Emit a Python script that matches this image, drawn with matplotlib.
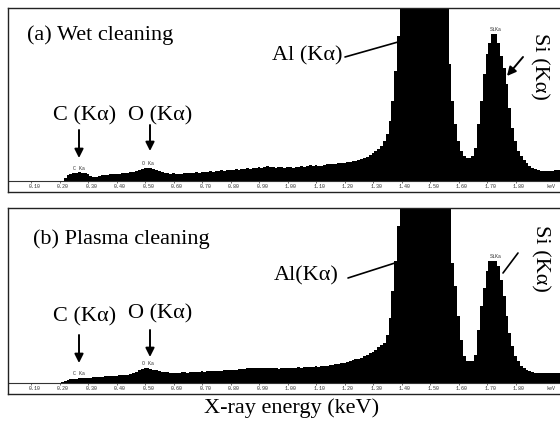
import numpy as np
import matplotlib.pyplot as plt

plt.rcParams['font.family'] = ['Liberation Serif', 'DejaVu Serif']

W, H = 560, 430

# canales de energia (keV), 0.02 .. 1.95 cada 0.01
energia = np.round(0.02 + 0.01 * np.arange(194), 2)

# cuentas (a) limpieza humeda
cuentas_humeda = [
    0, 0, 0, 0, 0, 0, 0, 0, 0, 0,
    0, 0, 0, 0, 0, 0, 0, 0, 0, 0,
    3, 6, 7, 8, 8, 9, 8, 8, 7, 5,
    4, 4, 5, 6, 6, 6, 7, 7, 7, 7,
    8, 8, 8, 9, 9, 10, 11, 12, 13, 13,
    13, 12, 11, 10, 9, 8, 8, 7, 8, 7,
    7, 7, 8, 8, 8, 8, 9, 8, 9, 9,
    9, 10, 9, 10, 10, 11, 10, 11, 11, 11,
    12, 11, 12, 12, 13, 12, 13, 13, 14, 13,
    14, 15, 14, 14, 13, 14, 14, 13, 14, 14,
    13, 14, 14, 15, 14, 15, 16, 15, 16, 15,
    15, 16, 17, 17, 17, 17, 18, 18, 18, 19,
    19, 20, 20, 21, 22, 23, 24, 26, 28, 30,
    32, 35, 40, 47, 60, 80, 110, 145, 190, 240,
    290, 330, 360, 380, 390, 390, 380, 360, 330, 290,
    250, 220, 195, 180, 175, 117, 80, 57, 40, 30,
    25, 23, 23, 25, 33, 57, 80, 107, 127, 138,
    147, 147, 138, 125, 113, 97, 73, 53, 40, 30,
    25, 21, 18, 15, 13, 12, 11, 10, 10, 10,
    10, 10, 11, 11,
]

# cuentas (b) limpieza con plasma
cuentas_plasma = [
    0, 0, 0, 0, 0, 0, 0, 0, 0, 0,
    0, 0, 0, 0, 0, 0, 0, 0, 0, 1,
    2, 3, 4, 4, 4, 5, 5, 5, 5, 5,
    6, 6, 6, 6, 7, 7, 7, 7, 7, 8,
    8, 8, 8, 9, 10, 11, 13, 14, 15, 15,
    14, 13, 13, 12, 11, 11, 11, 10, 10, 10,
    10, 11, 11, 10, 11, 11, 11, 11, 12, 11,
    12, 12, 12, 12, 12, 12, 13, 13, 13, 13,
    13, 14, 14, 14, 15, 15, 15, 15, 15, 15,
    15, 15, 15, 15, 15, 14, 15, 15, 15, 15,
    15, 15, 16, 15, 16, 16, 16, 16, 17, 16,
    17, 17, 17, 18, 18, 19, 19, 20, 20, 21,
    22, 23, 24, 24, 25, 27, 28, 30, 31, 33,
    36, 38, 40, 48, 65, 92, 122, 157, 200, 250,
    300, 340, 370, 390, 400, 400, 390, 370, 340, 300,
    270, 240, 215, 195, 185, 180, 120, 97, 67, 43,
    27, 22, 22, 22, 28, 53, 77, 95, 112, 122,
    122, 122, 117, 103, 87, 67, 50, 37, 27, 22,
    17, 15, 13, 12, 11, 10, 10, 10, 10, 10,
    10, 10, 10, 10,
]

ticks_kev = [0.1, 0.2, 0.3, 0.4, 0.5, 0.6, 0.7, 0.8, 0.9,
             1.0, 1.1, 1.2, 1.3, 1.4, 1.5, 1.6, 1.7, 1.8]
ticks_txt = ['%.2f' % t for t in ticks_kev]


def fp(x, y):
    # pixeles de la imagen -> fraccion de figura
    return (x / W, 1 - y / H)


def e_de_x(x):
    return 0.1 + (x - 31) / 285.0


def panel(ax, cuentas, ytop, ystrip, picos):
    ax.bar(energia, cuentas, width=0.0102, color='k', linewidth=0)
    ax.set_xlim(e_de_x(8), e_de_x(566))
    ax.set_ylim(-ystrip, ytop)
    ax.axhline(0, color='#333333', lw=0.8)
    ax.vlines(ticks_kev, -2, 0, color='#333333', lw=0.5)
    for t, s in zip(ticks_kev, ticks_txt):
        ax.text(t + 0.012, -ystrip / 2, s, fontsize=3.6, ha='center',
                va='center', family='Liberation Mono', color='#333333')
    ax.text(1.925, -ystrip / 2, 'keV', fontsize=3.6, ha='center',
            va='center', family='Liberation Mono', color='#333333')
    for s, e, y in picos:
        ax.text(e, y, s, fontsize=3.6, ha='center', va='bottom',
                family='Liberation Mono', color='#333333')
    ax.set_xticks([])
    ax.set_yticks([])
    for lado in ['left', 'top', 'bottom']:
        ax.spines[lado].set_color('#222222')
        ax.spines[lado].set_linewidth(1.0)
    ax.spines['right'].set_visible(False)


fig = plt.figure(figsize=(W / 100, H / 100), dpi=100)
ax1 = fig.add_axes([8 / W, 1 - 191.7 / H, 558 / W, 183.4 / H])
ax2 = fig.add_axes([8 / W, 1 - 394.3 / H, 558 / W, 186 / H])

panel(ax1, cuentas_humeda, 172.7, 10.7,
      [('C Ka', 0.27, 10), ('O Ka', 0.51, 15), ('SiKa', 1.73, 149)])
panel(ax2, cuentas_plasma, 175, 11,
      [('C Ka', 0.27, 7), ('O Ka', 0.51, 17), ('SiKa', 1.73, 124)])

fs = 16
flecha = dict(arrowstyle='-|>', lw=1.4, color='k', mutation_scale=13,
              shrinkA=0, shrinkB=0)
linea = dict(arrowstyle='-', lw=1.2, color='k', shrinkA=0, shrinkB=0)

# panel (a)
fig.text(*fp(27, 35), '(a) Wet cleaning', fontsize=fs, va='center', ha='left')
fig.text(*fp(85, 116), 'C (K\u03b1)', fontsize=fs, va='center', ha='center')
fig.text(*fp(160, 116), 'O (K\u03b1)', fontsize=fs, va='center', ha='center')
fig.text(*fp(307, 56), 'Al (K\u03b1)', fontsize=fs, va='center', ha='center')
fig.text(*fp(539, 66), 'Si (K\u03b1)', fontsize=fs, va='center', ha='center',
         rotation=270)
ax1.annotate('', xy=fp(79, 158), xytext=fp(79, 130),
             xycoords='figure fraction', arrowprops=flecha)
ax1.annotate('', xy=fp(150, 151), xytext=fp(150, 125),
             xycoords='figure fraction', arrowprops=flecha)
ax1.annotate('', xy=fp(398, 42), xytext=fp(345, 57),
             xycoords='figure fraction', arrowprops=linea)
ax1.annotate('', xy=fp(507, 76), xytext=fp(523, 57),
             xycoords='figure fraction', arrowprops=flecha)

# panel (b)
fig.text(*fp(33, 239), '(b) Plasma cleaning', fontsize=fs, va='center',
         ha='left')
fig.text(*fp(85, 317), 'C (K\u03b1)', fontsize=fs, va='center', ha='center')
fig.text(*fp(160, 314), 'O (K\u03b1)', fontsize=fs, va='center', ha='center')
fig.text(*fp(306, 276), 'Al(K\u03b1)', fontsize=fs, va='center', ha='center')
fig.text(*fp(540, 258), 'Si (K\u03b1)', fontsize=fs, va='center', ha='center',
         rotation=270)
ax2.annotate('', xy=fp(79, 363), xytext=fp(79, 335),
             xycoords='figure fraction', arrowprops=flecha)
ax2.annotate('', xy=fp(150, 357), xytext=fp(150, 330),
             xycoords='figure fraction', arrowprops=flecha)
ax2.annotate('', xy=fp(398, 262), xytext=fp(348, 278),
             xycoords='figure fraction', arrowprops=linea)
ax2.annotate('', xy=fp(503, 273), xytext=fp(518, 253),
             xycoords='figure fraction', arrowprops=linea)

fig.text(*fp(292, 408), 'X-ray energy (keV)', fontsize=fs, va='center',
         ha='center')

fig.savefig('out.png', dpi=100)
